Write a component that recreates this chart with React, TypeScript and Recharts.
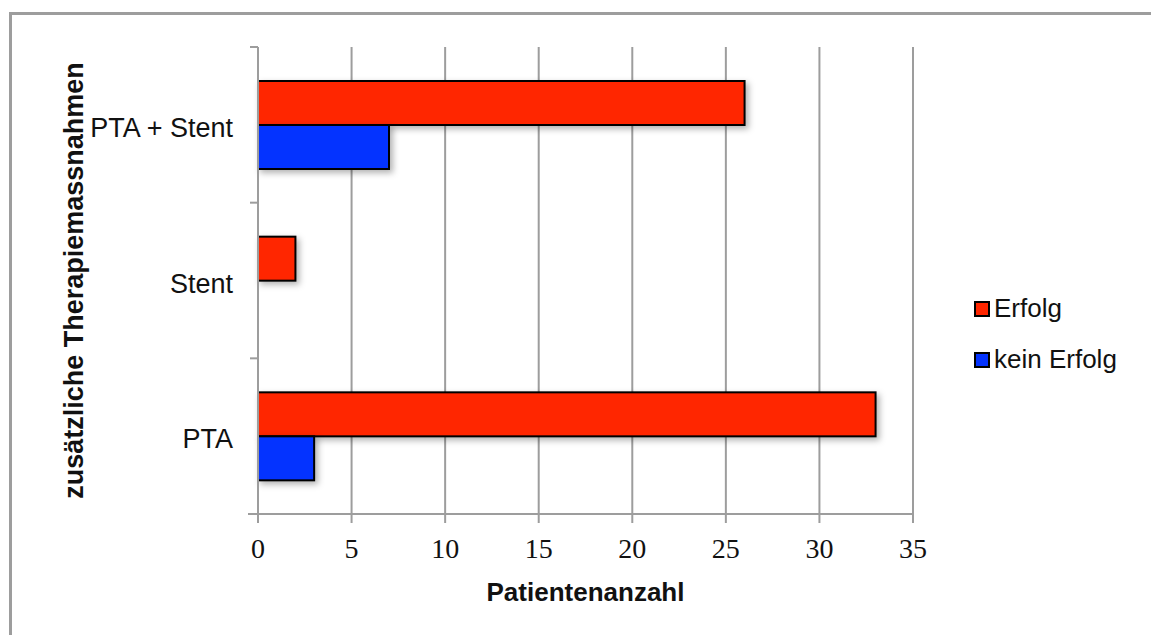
import { BarChart, Bar, XAxis, YAxis, CartesianGrid, Legend } from "recharts";

// Werte
const categories = ["PTA + Stent", "Stent", "PTA"];
const erfolg = [26, 2, 33];
const keinErfolg = [7, 0, 3];
const xTicks = [0, 5, 10, 15, 20, 25, 30, 35];

const data = categories.map((name, i) => ({ name, erfolg: erfolg[i], keinErfolg: keinErfolg[i] }));

const W = 1151;
const H = 635;
const PLOT_TOP = 47;
const PLOT_BOTTOM = 514;
const BAND = (PLOT_BOTTOM - PLOT_TOP) / categories.length;
const GRAY = "#9d9d9d";
const SANS = "'Liberation Sans', Arial, sans-serif";

function CategoryTick(props: any) {
  const { x, y, payload, index } = props;
  return (
    <g>
      <line x1={x + 17} x2={x + 25} y1={y - BAND / 2} y2={y - BAND / 2} stroke={GRAY} strokeWidth={2} />
      {index === categories.length - 1 && (
        <line x1={x + 15} x2={x + 25} y1={y + BAND / 2} y2={y + BAND / 2} stroke={GRAY} strokeWidth={2} />
      )}
      <text x={x} y={y + 3} textAnchor="end" dominantBaseline="central" fontSize={27} fontFamily={SANS} fill="#111">
        {payload.value}
      </text>
    </g>
  );
}

function ShadowBar(props: any) {
  const { x, y, width, height, fill } = props;
  if (!width || width <= 0) return <g />;
  return (
    <rect
      x={x}
      y={y}
      width={width}
      height={height}
      fill={fill}
      stroke="#000"
      strokeWidth={2}
      style={{ filter: "drop-shadow(3px 3px 3px rgba(0,0,0,0.3))" }}
    />
  );
}

function LegendBox(props: any) {
  const items = props.payload || [];
  return (
    <div style={{ fontFamily: SANS, fontSize: 26, color: "#111" }}>
      {items.map((it: any) => (
        <div key={it.value} style={{ display: "flex", alignItems: "center", height: 51 }}>
          <span
            style={{
              display: "inline-block",
              width: 12,
              height: 12,
              background: it.color,
              border: "2px solid #000",
              marginRight: 4,
            }}
          />
          {it.value}
        </div>
      ))}
    </div>
  );
}

export default function App() {
  return (
    <div style={{ position: "absolute", left: 0, top: 0, width: W, height: H, overflow: "hidden", background: "#fff" }}>
      <div
        style={{
          position: "absolute",
          left: 9,
          top: 12,
          width: W + 50,
          height: H + 50,
          borderTop: `3px solid ${GRAY}`,
          borderLeft: `3px solid ${GRAY}`,
        }}
      />
      <div style={{ position: "absolute", left: 0, top: 0 }}>
        <BarChart
          width={W}
          height={H}
          data={data}
          layout="vertical"
          margin={{ top: PLOT_TOP, right: 238, left: 0, bottom: 0 }}
          barSize={44}
          barGap={0}
        >
          <CartesianGrid horizontal={false} stroke={GRAY} strokeWidth={2} />
          <XAxis
            type="number"
            domain={[0, 35]}
            ticks={xTicks}
            height={H - PLOT_BOTTOM}
            stroke={GRAY}
            strokeWidth={2}
            tickSize={9}
            tickMargin={15}
            tick={{ fontSize: 28, fontFamily: "'Liberation Serif', serif", fill: "#111" }}
            label={{
              value: "Patientenanzahl",
              position: "insideBottom",
              offset: 34,
              fontSize: 26,
              fontWeight: "bold",
              fontFamily: SANS,
              fill: "#111",
            }}
          />
          <YAxis
            type="category"
            dataKey="name"
            width={258}
            stroke={GRAY}
            strokeWidth={2}
            tickLine={false}
            tickSize={0}
            tickMargin={25}
            tick={<CategoryTick />}
            label={{
              value: "zusätzliche Therapiemassnahmen",
              angle: -90,
              position: "center",
              dx: -56,
              fontSize: 27,
              fontWeight: "bold",
              fontFamily: SANS,
              fill: "#111",
            }}
          />
          <Legend
            layout="vertical"
            align="center"
            verticalAlign="middle"
            content={<LegendBox />}
            wrapperStyle={{ left: 974, top: 283, width: 170 }}
          />
          <Bar dataKey="erfolg" name="Erfolg" fill="#ff2600" shape={<ShadowBar />} isAnimationActive={false} />
          <Bar dataKey="keinErfolg" name="kein Erfolg" fill="#0433ff" shape={<ShadowBar />} isAnimationActive={false} />
        </BarChart>
      </div>
    </div>
  );
}
